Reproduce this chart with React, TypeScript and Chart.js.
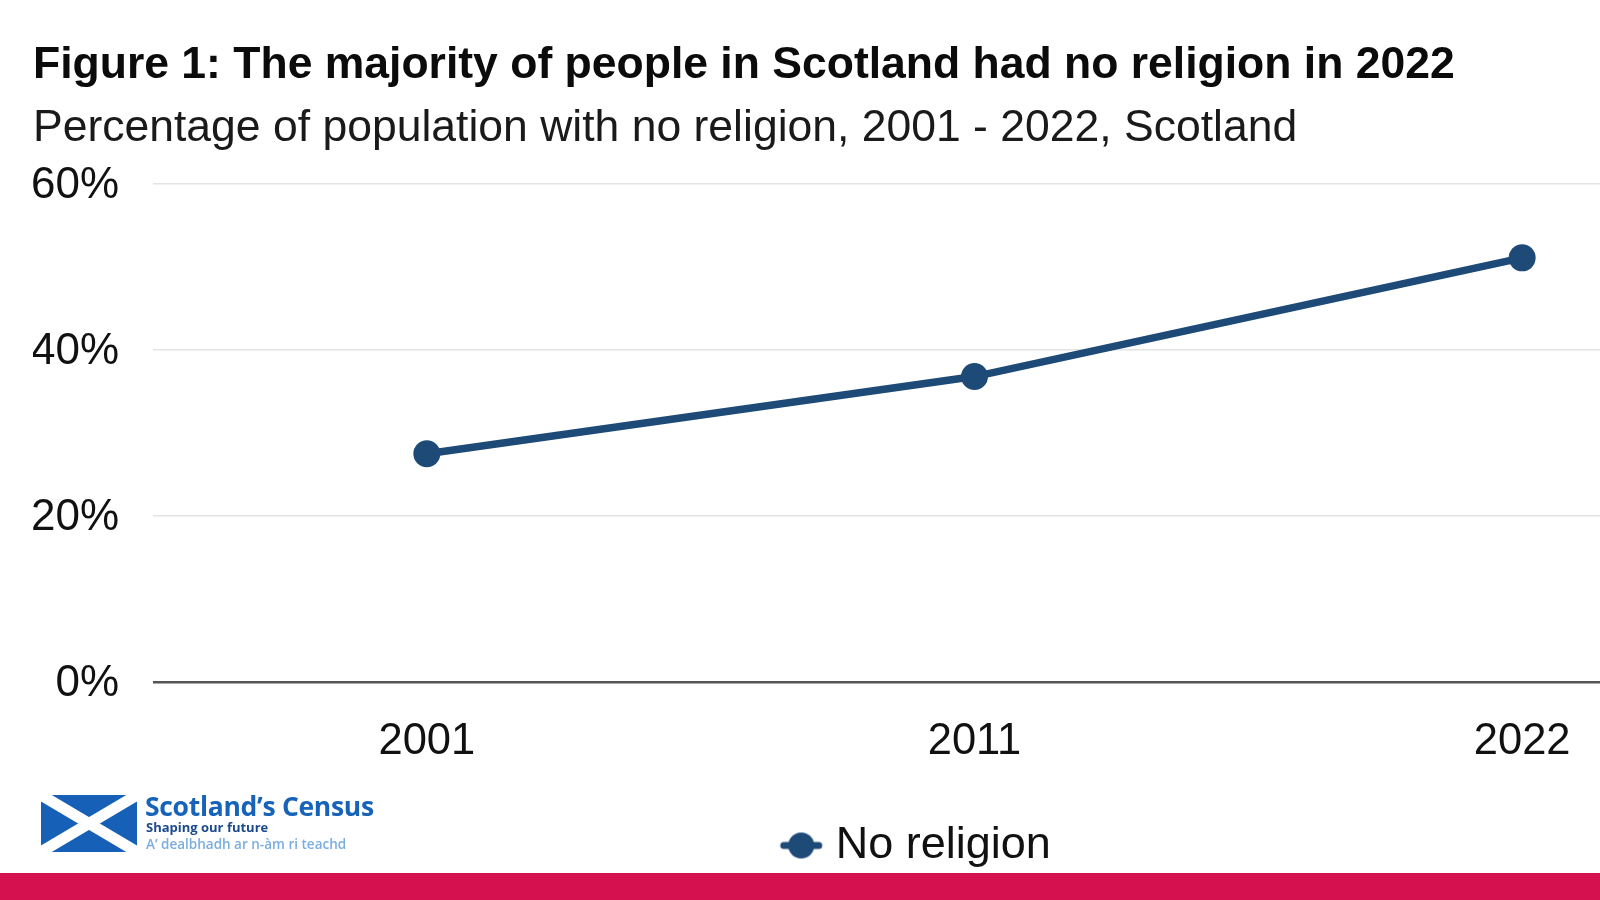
import React, { useEffect, useRef } from 'react';
import { Chart, registerables } from 'chart.js';

Chart.register(...registerables);

// ---- data ----
const years: string[] = ['2001', '2011', '2022'];
const noReligionPct: number[] = [27.5, 36.8, 51.1];
const seriesLabel = 'No religion';
const yTickValues: number[] = [0, 20, 40, 60];
const titleText = 'Figure 1: The majority of people in Scotland had no religion in 2022';
const subtitleText = 'Percentage of population with no religion, 2001 - 2022, Scotland';

const NAVY = '#1d4a77';
const FONT = '"Liberation Sans", Arial, Helvetica, sans-serif';
const CANVAS_W = 1796;
const CANVAS_H = 900;

function makeLegendMarker(): HTMLCanvasElement {
  const c = document.createElement('canvas');
  c.width = 60;
  c.height = 30;
  const g = c.getContext('2d')!;
  g.strokeStyle = NAVY;
  g.fillStyle = NAVY;
  g.lineWidth = 7;
  g.lineCap = 'round';
  g.beginPath();
  g.moveTo(18, 15);
  g.lineTo(53, 15);
  g.stroke();
  g.beginPath();
  g.arc(35.5, 15, 13, 0, Math.PI * 2);
  g.fill();
  return c;
}

export default function App() {
  const ref = useRef<HTMLCanvasElement>(null);

  useEffect(() => {
    if (!ref.current) return;
    const marker = makeLegendMarker();
    const chart = new Chart(ref.current, {
      type: 'line',
      data: {
        labels: years,
        datasets: [
          {
            label: seriesLabel,
            data: noReligionPct,
            borderColor: NAVY,
            backgroundColor: NAVY,
            borderWidth: 7.5,
            pointRadius: 13.5,
            pointHoverRadius: 13.5,
            pointBackgroundColor: NAVY,
            pointBorderWidth: 0,
            tension: 0,
            fill: false,
          },
        ],
      },
      options: {
        responsive: false,
        devicePixelRatio: 1,
        animation: false,
        layout: { autoPadding: false, padding: { left: 33, right: 0, top: 0, bottom: 22 } },
        plugins: {
          title: {
            display: true,
            text: titleText,
            align: 'start',
            color: '#0b0b0b',
            font: { family: FONT, size: 44.5, weight: 'bold', lineHeight: 1 },
            padding: { top: 43, bottom: 0 },
          },
          subtitle: {
            display: true,
            text: subtitleText,
            align: 'start',
            color: '#1a1a1a',
            font: { family: FONT, size: 44.5, weight: 'normal', lineHeight: 1 },
            padding: { top: 19, bottom: 33 },
          },
          legend: {
            display: true,
            position: 'bottom',
            align: 'center',
            labels: {
              usePointStyle: true,
              pointStyle: marker as any,
              pointStyleWidth: 35,
              padding: 56,
              color: '#111',
              font: { family: FONT, size: 45 },
            },
          },
          tooltip: { enabled: false },
        },
        scales: {
          x: {
            type: 'category',
            offset: true,
            grid: { display: false, drawTicks: false },
            border: { display: false },
            ticks: {
              color: '#111',
              padding: 34,
              font: { family: FONT, size: 43.5, lineHeight: 1.2 },
              maxRotation: 0,
            },
            afterFit: (scale: any) => {
              scale.height = 85;
            },
          },
          y: {
            min: 0,
            max: 60,
            afterBuildTicks: (scale: any) => {
              scale.ticks = yTickValues.map((v) => ({ value: v }));
            },
            afterFit: (scale: any) => {
              scale.width = 120;
            },
            grid: {
              drawTicks: false,
              color: (ctx: any) => (ctx.tick && ctx.tick.value === 0 ? '#555555' : '#e4e4e4'),
              lineWidth: (ctx: any) => (ctx.tick && ctx.tick.value === 0 ? 2.5 : 1.5),
            },
            border: { display: false },
            ticks: {
              color: '#111',
              padding: 34,
              labelOffset: 2,
              font: { family: FONT, size: 44, lineHeight: 1.2 },
              callback: (v: any) => `${v}%`,
            },
          },
        },
      },
    });
    return () => chart.destroy();
  }, []);

  return (
    <div
      style={{
        position: 'fixed',
        left: 0,
        top: 0,
        width: 1600,
        height: 900,
        overflow: 'hidden',
        background: '#ffffff',
      }}
    >
      <canvas
        ref={ref}
        width={CANVAS_W}
        height={CANVAS_H}
        style={{ position: 'absolute', left: 0, top: 0, width: CANVAS_W, height: CANVAS_H }}
      />
      {/* logo */}
      <svg
        width={96}
        height={57}
        viewBox="0 0 96 57"
        style={{ position: 'absolute', left: 41, top: 795 }}
      >
        <rect x={0} y={0} width={96} height={57} fill="#1660b8" />
        <line x1={0} y1={0} x2={96} y2={57} stroke="#ffffff" strokeWidth={11} />
        <line x1={96} y1={0} x2={0} y2={57} stroke="#ffffff" strokeWidth={11} />
      </svg>
      <div
        style={{
          position: 'absolute',
          left: 145,
          top: 794,
          fontFamily: '"Open Sans", sans-serif',
          fontWeight: 700,
          fontSize: 26.5,
          lineHeight: '24px',
          letterSpacing: '-0.3px',
          color: '#1763b9',
          whiteSpace: 'nowrap',
        }}
      >
        Scotland’s Census
      </div>
      <div
        style={{
          position: 'absolute',
          left: 146,
          top: 821,
          fontFamily: '"Open Sans", sans-serif',
          fontWeight: 700,
          fontSize: 13,
          lineHeight: '13px',
          color: '#1b4a8c',
          whiteSpace: 'nowrap',
        }}
      >
        Shaping our future
      </div>
      <div
        style={{
          position: 'absolute',
          left: 146,
          top: 838,
          fontFamily: '"Open Sans", sans-serif',
          fontWeight: 600,
          fontSize: 13.5,
          lineHeight: '13px',
          color: '#7aaee0',
          whiteSpace: 'nowrap',
        }}
      >
        A’ dealbhadh ar n-àm ri teachd
      </div>
      <div
        style={{
          position: 'absolute',
          left: 0,
          top: 873,
          width: 1600,
          height: 27,
          background: '#d6114f',
        }}
      />
    </div>
  );
}
